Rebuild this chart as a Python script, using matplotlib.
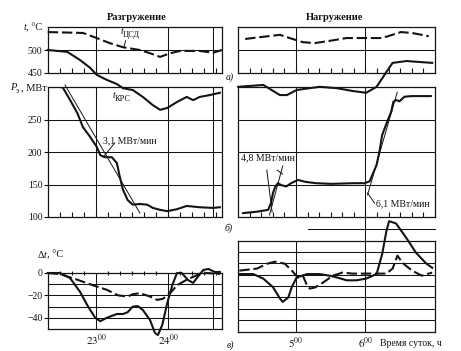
import matplotlib
matplotlib.use('Agg')
import matplotlib.pyplot as plt
import numpy as np

plt.rcParams['font.family'] = ['Liberation Serif', 'DejaVu Serif']
plt.rcParams['mathtext.fontset'] = 'stix'

# ---------------- data (time in hours) ----------------
# Unloading (Разгружение)
unload_time_tcsd = [22.33, 22.82, 23.01, 23.19, 23.375, 23.61, 23.75, 23.89, 24.03, 24.17, 24.44, 24.625, 24.75]
unload_tcsd = [539, 537, 526, 515, 506, 500, 493, 485, 493, 498, 498, 494, 500]

unload_time_tkrs = [22.33, 22.60, 22.78, 22.92, 23.01, 23.15, 23.29, 23.375, 23.51, 23.65, 23.79,
                    23.89, 23.99, 24.125, 24.26, 24.35, 24.44, 24.58, 24.72]
unload_tkrs = [500, 496, 478, 461, 446, 435, 426, 417, 413, 398, 380, 370, 374, 387, 398, 391, 398, 402, 407]

unload_time_p = [22.33, 22.50, 22.54, 22.64, 22.74, 22.82, 22.92, 23.01, 23.06, 23.125, 23.22, 23.29, 23.33,
                 23.375, 23.44, 23.51, 23.61, 23.71, 23.79, 23.89, 23.99, 24.125, 24.26, 24.44, 24.625, 24.72]
unload_p = [300, 300, 299, 280, 260, 238, 223, 208, 195, 192, 192, 183, 162, 142, 126, 119, 120, 119,
            114, 111, 109, 112, 117, 115, 114, 115]

unload_fit_t = [22.57, 23.61]
unload_fit_p = [303, 106]
unload_leader_t = [23.26, 23.10]
unload_leader_p = [214, 192]

unload_time_dt1 = [22.33, 22.50, 22.64, 22.78, 22.89, 22.99, 23.06, 23.15, 23.29, 23.375, 23.44, 23.51, 23.58,
                   23.65, 23.75, 23.82, 23.86, 23.92, 23.99, 24.06, 24.125, 24.19, 24.28, 24.35, 24.40, 24.49,
                   24.56, 24.65, 24.72]
unload_dt_solid = [0, 0, -4.5, -17, -30, -40, -43, -40, -36.6, -36.6, -35, -30, -29.5, -33, -42, -53.6, -55.4,
                   -46.4, -26.8, -10.7, 0, 0, -6.3, -8.9, -4.5, 2.7, 3.6, 0.9, 0.9]
unload_time_dt2 = [22.33, 22.50, 22.74, 22.96, 23.15, 23.31, 23.44, 23.51, 23.61, 23.75, 23.85, 23.93, 24.03,
                   24.125, 24.26, 24.40, 24.54, 24.72]
unload_dt_dashed = [0, -1, -6, -11, -15, -20, -21, -19, -18, -21, -24, -23, -18, -11, -6, -2, 0, -1]

# Loading (Нагружение)
load_time_tcsd = [4.27, 4.49, 4.77, 4.91, 5.10, 5.27, 5.49, 5.73, 5.96, 6.24, 6.51, 6.67, 6.91]
load_tcsd = [524, 528, 533, 526, 517, 515, 520, 526, 526, 526, 539, 537, 530]

load_time_tkrs = [4.17, 4.53, 4.77, 4.87, 5.01, 5.34, 5.59, 5.81, 6.01, 6.16, 6.30, 6.39, 6.59, 6.77, 6.96]
load_tkrs = [420, 424, 402, 402, 413, 420, 417, 411, 407, 420, 452, 472, 476, 474, 472]

load_time_p = [4.24, 4.43, 4.60, 4.64, 4.67, 4.70, 4.74, 4.79, 4.86, 4.93, 5.03, 5.14, 5.29, 5.50, 5.84,
               5.99, 6.06, 6.10, 6.16, 6.20, 6.24, 6.31, 6.37, 6.40, 6.44, 6.49, 6.56, 6.66, 6.94]
load_p = [106, 108, 111, 121, 137, 146, 152, 149, 147, 152, 157, 154, 152, 151, 152, 152, 155, 165, 180,
          200, 226, 246, 262, 277, 280, 278, 285, 286, 286]

load_fit1_t = [4.619, 4.81]
load_fit1_p = [103, 178.5]
load_leader1_t = [4.581, 4.657]
load_leader1_p = [172.3, 107.7]
load_leader1b_t = [4.73, 4.81]
load_leader1b_p = [172, 166]
load_fit2_t = [6.03, 6.457]
load_fit2_p = [134, 292]
load_leader2_t = [6.03, 6.13]
load_leader2_p = [137, 121.5]

load_time_dt1 = [4.186, 4.386, 4.53, 4.67, 4.77, 4.81, 4.89, 4.94, 5.01, 5.16, 5.34, 5.49, 5.59, 5.73, 5.87,
                 6.01, 6.16, 6.24, 6.30, 6.34, 6.44, 6.59, 6.73, 6.87, 6.96]
load_dt_solid = [0.5, 0.5, -3.5, -11, -21, -24, -20, -11, -2.5, 0.5, 0.5, -1, -2.5, -5, -5, -3.5, 0.5, 18,
                 38, 47, 45, 32, 19, 10, 6]
load_time_dt2 = [4.186, 4.44, 4.586, 4.70, 4.84, 4.94, 5.03, 5.10, 5.16, 5.20, 5.27, 5.39, 5.53, 5.67, 5.81,
                 6.01, 6.30, 6.39, 6.46, 6.53, 6.67, 6.81, 6.96]
load_dt_dashed = [3.5, 5.3, 9.6, 11.4, 9.6, 3.5, -2.6, -0.9, -9.6, -12.3, -11.4, -7, -0.9, 1.8, 0.9, 0.9,
                  0.9, 5.3, 16.7, 10.5, 3.5, -0.9, 1.8]

# ---------------- figure ----------------
W, H = 461, 351
fig = plt.figure(figsize=(W / 100, H / 100), dpi=100)
ink = '#141414'
CW = 1.5       # curve width
GW = 0.75      # grid width
DASH = (0, (5, 1.8))


def add_ax(x0, y0, x1, y1):
    return fig.add_axes([x0 / W, 1 - y1 / H, (x1 - x0) / W, (y1 - y0) / H])


def ftext(x, y, s, **kw):
    kw.setdefault('color', ink)
    fig.text(x / W, 1 - y / H, s, **kw)


def base_style(ax, xlim, ylim, vgrid, hgrid, tick_side='bottom'):
    ax.set_xlim(*xlim)
    ax.set_ylim(*ylim)
    ax.patch.set_alpha(0)
    for s in ax.spines.values():
        s.set_linewidth(0.9)
        s.set_color(ink)
    for v in vgrid:
        ax.axvline(v, color=ink, lw=GW, zorder=1)
    for h in hgrid:
        ax.axhline(h, color=ink, lw=GW, zorder=1)
    minor = np.arange(xlim[0], xlim[1] - 1e-6, 1 / 6)[1:]
    ax.set_xticks(minor, minor=True)
    ax.set_xticks([])
    if tick_side == 'bottom':
        ax.tick_params(axis='x', which='minor', direction='in', length=3.5, width=0.8,
                       bottom=True, top=False, color=ink)
    elif tick_side == 'top':
        ax.tick_params(axis='x', which='minor', direction='inout', length=3.5, width=0.8,
                       bottom=False, top=True, color=ink)
    else:
        ax.tick_params(axis='x', which='minor', length=0)
    ax.tick_params(axis='y', direction='out', length=3, width=0.8, pad=1, labelsize=7,
                   colors=ink)


LX = (22 + 20 / 60, 24.75)
RX = (4 + 10 / 60, 7.0)

LA = add_ax(48, 27, 222, 73)
LB = add_ax(48, 87, 222, 217)
LC = add_ax(48, 273, 222, 329)
RA = add_ax(238, 27, 435, 73)
RB = add_ax(238, 87, 435, 217)
RC = add_ax(238, 240.5, 435, 331.5)

lv = [23, 24, 24.63]
rv = [5, 6]

base_style(LA, LX, (450, 550), lv, [500])
base_style(LB, LX, (100, 300), lv, [150, 200, 250])
base_style(LC, LX, (-50, 0), lv, [-10, -20, -30, -40], tick_side='top')
base_style(RA, RX, (450, 550), rv, [500])
base_style(RB, RX, (100, 300), rv, [150, 200, 250])
base_style(RC, RX, (-50, 30), rv, [20, 10, 0, -10, -20, -30, -40], tick_side='none')

LA.set_yticks([450, 500], ['450', '500'])
LB.set_yticks([100, 150, 200, 250], ['100', '150', '200', '250'])
LC.set_yticks([0, -20, -40], ['0', '\u221220', '\u221240'])
for ax in (RA, RB, RC):
    ax.set_yticks([])

# x labels on the bottom panels
LC.set_xticks([23, 24], ['$23^{00}$', '$24^{00}$'])
RC.set_xticks([5, 6], ['$5^{00}$', '$6^{00}$'])
for ax in (LC, RC):
    ax.tick_params(axis='x', which='major', length=0, pad=3, labelsize=8, colors=ink)

# ---------- curves ----------
LA.plot(unload_time_tcsd, unload_tcsd, color=ink, lw=CW, ls=DASH, clip_on=False, zorder=3)
LA.plot(unload_time_tkrs, unload_tkrs, color=ink, lw=CW, clip_on=False, zorder=3)
LA.plot([23.41, 23.39], [520, 507], color=ink, lw=0.7, clip_on=False)

LB.plot(unload_time_p, unload_p, color=ink, lw=CW, zorder=3)
LB.plot(unload_fit_t, unload_fit_p, color=ink, lw=0.7, clip_on=False, zorder=3)
LB.plot(unload_leader_t, unload_leader_p, color=ink, lw=0.7, zorder=3)

LC.plot(unload_time_dt1, unload_dt_solid, color=ink, lw=CW, clip_on=False, zorder=3)
LC.plot(unload_time_dt2, unload_dt_dashed, color=ink, lw=CW, ls=DASH, clip_on=False, zorder=3)

RA.plot(load_time_tcsd, load_tcsd, color=ink, lw=CW, ls=DASH, clip_on=False, zorder=3)
RA.plot(load_time_tkrs, load_tkrs, color=ink, lw=CW, clip_on=False, zorder=3)

RB.plot(load_time_p, load_p, color=ink, lw=CW, zorder=3)
RB.plot(load_fit1_t, load_fit1_p, color=ink, lw=0.7, zorder=3)
RB.plot(load_leader1_t, load_leader1_p, color=ink, lw=0.7, zorder=3)
RB.plot(load_leader1b_t, load_leader1b_p, color=ink, lw=0.7, zorder=3)
RB.plot(load_fit2_t, load_fit2_p, color=ink, lw=0.7, clip_on=False, zorder=3)
RB.plot(load_leader2_t, load_leader2_p, color=ink, lw=0.7, zorder=3)

RC.plot(load_time_dt1, load_dt_solid, color=ink, lw=CW, clip_on=False, zorder=3)
RC.plot(load_time_dt2, load_dt_dashed, color=ink, lw=CW, ls=DASH, clip_on=False, zorder=3)
RC.plot([5.17, 7.0], [40, 40], color=ink, lw=GW, clip_on=False)
RC.axvline(6, ymin=0, ymax=1 + (240.5 - 217) / 91.0, color=ink, lw=GW, clip_on=False)

# ---------- texts ----------
ftext(137, 17, 'Разгружение', ha='center', va='center', fontsize=7.5, fontweight='bold')
ftext(335, 17, 'Нагружение', ha='center', va='center', fontsize=7.5, fontweight='bold')

ftext(26, 28, 't', ha='right', va='center', fontsize=7.5, style='italic')
ftext(26, 28, ', °C', ha='left', va='center', fontsize=7.5)

ftext(16, 88, 'P', ha='right', va='center', fontsize=7.5, style='italic')
ftext(16, 91, 'э', ha='left', va='center', fontsize=5.5)
ftext(21, 88, ', МВт', ha='left', va='center', fontsize=7.5)

ftext(38, 255, 'Δ', ha='left', va='center', fontsize=7.5)
ftext(44, 255, 't', ha='left', va='center', fontsize=7.5, style='italic')
ftext(47, 255, ', °C', ha='left', va='center', fontsize=7.5)

ftext(123, 31, 't', ha='right', va='center', fontsize=7, style='italic')
ftext(123, 35, 'ЦСД', ha='left', va='center', fontsize=6)
ftext(115, 95, 't', ha='right', va='center', fontsize=7, style='italic')
ftext(115, 99, 'КРС', ha='left', va='center', fontsize=6)

ftext(103, 141, '3,1 МВт/мин', ha='left', va='center', fontsize=7)
ftext(241, 158, '4,8 МВт/мин', ha='left', va='center', fontsize=7)
ftext(376, 204, '6,1 МВт/мин', ha='left', va='center', fontsize=7)

ftext(380, 343, 'Время суток, ч', ha='left', va='center', fontsize=7)

ftext(230, 77, 'а)', ha='center', va='center', fontsize=7, style='italic')
ftext(229, 228, 'б)', ha='center', va='center', fontsize=7, style='italic')
ftext(230, 345, 'в)', ha='center', va='center', fontsize=7, style='italic')

fig.savefig('out.png', dpi=100, facecolor='white')
